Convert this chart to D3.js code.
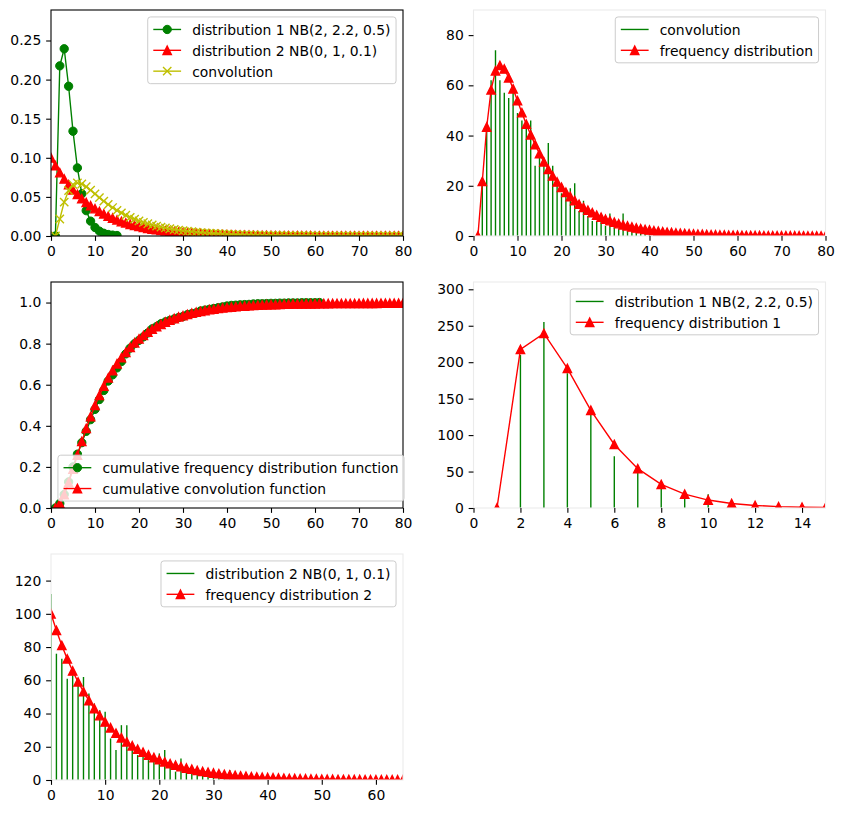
<!DOCTYPE html>
<html>
<head>
<meta charset="utf-8">
<script src="https://cdn.jsdelivr.net/npm/d3@7"></script>
<style>
  body { margin: 0; background: #fff; }
  svg { display: block; font-family: "DejaVu Sans", sans-serif; }
</style>
</head>
<body>
<div id="chart"></div>
<script>
// Negative binomial distributions, their convolution and sampled frequencies

// ---- data ----
// distribution 1 NB(2, 2.2, 0.5), x = 1..15
const dist1Start = 1;
const dist1 = [0, 0.2176, 0.2394, 0.1915, 0.1340, 0.0871, 0.0540, 0.0324, 0.0190, 0.0109,
  0.0062, 0.0035, 0.0019, 0.0011, 0.0006];

// distribution 2 NB(0, 1, 0.1), x = 0..80
const dist2Start = 0;
const dist2 = [0.1000, 0.0900, 0.0810, 0.0729, 0.0656, 0.0590, 0.0531, 0.0478, 0.0430, 0.0387,
  0.0349, 0.0314, 0.0282, 0.0254, 0.0229, 0.0206, 0.0185, 0.0167, 0.0150, 0.0135,
  0.0122, 0.0109, 0.0098, 0.0089, 0.0080, 0.0072, 0.0065, 0.0058, 0.0052, 0.0047,
  0.0042, 0.0038, 0.0034, 0.0031, 0.0028, 0.0025, 0.0023, 0.0020, 0.0018, 0.0016,
  0.00148, 0.00133, 0.00120, 0.00108, 0.00097, 0.00087, 0.00079, 0.00071, 0.00064, 0.00057,
  0.00052, 0.00046, 0.00042, 0.00038, 0.00034, 0.00030, 0.00027, 0.00025, 0.00022, 0.00020,
  0.00018, 0.00016, 0.00015, 0.00013, 0.00012, 0.00011, 0.00010, 0.00009, 0.00008, 0.00007,
  0.00006, 0.00006, 0.00005, 0.00005, 0.00004, 0.00004, 0.00003, 0.00003, 0.00003, 0.00002,
  0.00002];

// convolution of the two, x = 1..80
const convStart = 1;
const conv = [0, 0.0217, 0.0434, 0.0582, 0.0658, 0.0679, 0.0665, 0.0630, 0.0586, 0.0539,
  0.0491, 0.0445, 0.0403, 0.0364, 0.0328, 0.0295, 0.0265, 0.0239, 0.0215, 0.0194,
  0.0174, 0.0157, 0.0141, 0.0127, 0.0114, 0.0103, 0.0093, 0.0083, 0.0075, 0.0067,
  0.0061, 0.0055, 0.0049, 0.0044, 0.0040, 0.0036, 0.0032, 0.0029, 0.0026, 0.0024,
  0.0021, 0.0019, 0.0017, 0.0015, 0.0014, 0.00125, 0.0011, 0.0010, 0.0009, 0.00082,
  0.00074, 0.00066, 0.0006, 0.00054, 0.00048, 0.00044, 0.00039, 0.00035, 0.00032, 0.00029,
  0.00026, 0.00023, 0.00021, 0.00019, 0.00017, 0.00015, 0.00014, 0.00012, 0.00011, 0.0001,
  0.00009, 0.00008, 0.00007, 0.000065, 0.00006, 0.00005, 0.000047, 0.000042, 0.000038, 0.000034];

// sampled counts (green stems)
const sampleConvStart = 1;   // x = 1..61
const sampleConv = [0, 22, 44, 62, 74, 62, 57, 55, 57, 49,
  46, 43, 46, 28, 32, 30, 37, 28, 22, 17,
  16, 19, 21, 10, 14, 8, 6, 6, 6, 4,
  9, 4, 3, 9, 2, 2, 2, 2, 1, 1,
  2, 1, 2, 1, 1, 2, 1, 0, 1, 1,
  0, 1, 0, 1, 0, 0, 1, 0, 0, 0, 1];

const sample1Start = 1;      // x = 1..14
const sample1 = [0, 210, 255, 185, 130, 71, 52, 30, 16, 19, 6, 3, 2, 1];

const sample2Start = 0;      // x = 0..40
const sample2 = [112, 76, 73, 61, 63, 58, 62, 52, 46, 42,
  41, 25, 18, 33, 33, 20, 15, 14, 12, 11,
  16, 18, 8, 5, 13, 8, 6, 5, 4, 5,
  3, 3, 2, 6, 2, 1, 2, 1, 1, 0, 1];

// cumulative functions
const cumFreqStart = 1;      // x = 1..61
const cumFreq = [0, 0.022, 0.066, 0.127, 0.200, 0.262, 0.318, 0.373, 0.430, 0.480,
  0.528, 0.572, 0.618, 0.648, 0.682, 0.713, 0.750, 0.778, 0.800, 0.816,
  0.833, 0.852, 0.872, 0.883, 0.897, 0.906, 0.913, 0.920, 0.927, 0.932,
  0.941, 0.946, 0.950, 0.959, 0.963, 0.967, 0.971, 0.975, 0.979, 0.983,
  0.986, 0.987, 0.989, 0.990, 0.991, 0.993, 0.994, 0.994, 0.995, 0.996,
  0.996, 0.997, 0.997, 0.998, 0.998, 0.998, 0.999, 0.999, 0.999, 0.999, 1.000];

const cumConvStart = 1;      // x = 1..80
const cumConv = [0, 0.022, 0.065, 0.123, 0.189, 0.257, 0.324, 0.387, 0.445, 0.499,
  0.548, 0.593, 0.633, 0.669, 0.702, 0.732, 0.758, 0.782, 0.804, 0.823,
  0.840, 0.856, 0.870, 0.883, 0.894, 0.905, 0.914, 0.922, 0.930, 0.936,
  0.942, 0.948, 0.953, 0.957, 0.961, 0.965, 0.968, 0.971, 0.974, 0.976,
  0.978, 0.980, 0.982, 0.983, 0.985, 0.986, 0.987, 0.988, 0.989, 0.990,
  0.990, 0.991, 0.992, 0.992, 0.993, 0.993, 0.993, 0.994, 0.994, 0.994,
  0.9947, 0.9949, 0.9951, 0.9953, 0.9955, 0.9956, 0.9958, 0.9959, 0.9960, 0.9961,
  0.9962, 0.9963, 0.9963, 0.9964, 0.9965, 0.9965, 0.9966, 0.9966, 0.9966, 0.9967];

const sampleSize = 1000;

// tick labels
const ticks0to80 = [0, 10, 20, 30, 40, 50, 60, 70, 80];
const ticks0to60 = [0, 10, 20, 30, 40, 50, 60];
const ticks0to14 = [0, 2, 4, 6, 8, 10, 12, 14];
const ticksProb = [0, 0.05, 0.10, 0.15, 0.20, 0.25];
const ticksCum = [0, 0.2, 0.4, 0.6, 0.8, 1.0];
const ticksConvFreq = [0, 20, 40, 60, 80];
const ticksFreq1 = [0, 50, 100, 150, 200, 250, 300];
const ticksFreq2 = [0, 20, 40, 60, 80, 100, 120];

// ---- layout / style ----
const width = 844;
const height = 813;
const PW = 352, PH = 226;
const FS = 13.9;      // 10pt at 100 dpi
const TICK = 4.86;
const LW = 1.39;
const MS = 8.33;

const GREEN = "#008000", RED = "#ff0000", YELLOW = "#bfbf00";

const svg = d3.select("#chart")
  .append("svg")
  .attr("width", width)
  .attr("height", height);

const toPoints = (start, values, k = 1) => values.map((v, i) => ({ x: start + i, y: v * k }));

function panel(id, left, top, xDomain, yDomain, xTicks, yTicks, yFormat, light) {
  const g = svg.append("g").attr("transform", `translate(${left},${top})`);
  const x = d3.scaleLinear().domain(xDomain).range([0, PW]);
  const y = d3.scaleLinear().domain(yDomain).range([PH, 0]);

  g.append("clipPath").attr("id", "clip" + id)
    .append("rect").attr("width", PW).attr("height", PH);

  const plot = g.append("g").attr("clip-path", `url(#clip${id})`);
  return { g, x, y, plot, xTicks, yTicks, yFormat, light };
}

function finishAxes(p) {
  // spines drawn over data
  p.g.append("rect")
    .attr("width", PW).attr("height", PH)
    .attr("fill", "none")
    .attr("stroke", p.light ? "#ebebeb" : "#000")
    .attr("stroke-width", 1.1);

  const xa = p.g.append("g")
    .attr("transform", `translate(0,${PH})`)
    .call(d3.axisBottom(p.x).tickValues(p.xTicks).tickSize(TICK).tickPadding(TICK).tickFormat(d3.format("d")));
  const ya = p.g.append("g")
    .call(d3.axisLeft(p.y).tickValues(p.yTicks).tickSize(TICK).tickPadding(TICK).tickFormat(p.yFormat));

  [xa, ya].forEach(a => {
    a.select(".domain").remove();
    a.attr("font-size", FS).attr("font-family", '"DejaVu Sans", sans-serif');
    a.selectAll("line").attr("stroke", "#000").attr("stroke-width", 1.1);
    a.selectAll("text").attr("fill", "#000");
  });
}

function marker(sel, type, color) {
  const h = MS / 2;
  if (type === "circle") {
    sel.append("circle").attr("r", h).attr("fill", color).attr("stroke", color).attr("stroke-width", 1);
  } else if (type === "triangle") {
    sel.append("path").attr("d", `M0,${-h}L${h},${h}L${-h},${h}Z`)
      .attr("fill", color).attr("stroke", color).attr("stroke-width", LW).attr("stroke-linejoin", "miter");
  } else if (type === "x") {
    sel.append("path").attr("d", `M${-h},${-h}L${h},${h}M${-h},${h}L${h},${-h}`)
      .attr("fill", "none").attr("stroke", color).attr("stroke-width", LW);
  }
}

function lineSeries(p, pts, color, type) {
  const line = d3.line().x(d => p.x(d.x)).y(d => p.y(d.y));
  p.plot.append("path")
    .datum(pts)
    .attr("d", line)
    .attr("fill", "none")
    .attr("stroke", color)
    .attr("stroke-width", LW);

  p.plot.selectAll(null)
    .data(pts)
    .enter()
    .append("g")
    .attr("transform", d => `translate(${p.x(d.x)},${p.y(d.y)})`)
    .each(function () { marker(d3.select(this), type, color); });
}

function stems(p, pts, color) {
  p.plot.selectAll(null)
    .data(pts)
    .enter()
    .append("line")
    .attr("x1", d => p.x(d.x)).attr("x2", d => p.x(d.x))
    .attr("y1", p.y(0)).attr("y2", d => p.y(d.y))
    .attr("stroke", color)
    .attr("stroke-width", LW);
}

function legend(p, items, loc) {
  const pad = 0.5 * FS, bp = 0.4 * FS, hl = 2 * FS, htp = 0.8 * FS, ls = 0.5 * FS;
  const lg = p.g.append("g");
  const box = lg.append("rect");
  const texts = items.map(it => lg.append("text")
    .attr("font-size", FS)
    .attr("dominant-baseline", "central")
    .attr("fill", "#000")
    .text(it.label));
  const tw = d3.max(texts, t => t.node().getComputedTextLength());
  const w = bp + hl + htp + tw + bp;
  const h = 2 * bp + items.length * FS + (items.length - 1) * ls;
  const lx = loc === "upper right" ? PW - pad - w : pad;
  const ly = loc === "upper right" ? pad : PH - pad - h;

  box.attr("x", lx).attr("y", ly).attr("width", w).attr("height", h)
    .attr("rx", 2.8)
    .attr("fill", "#fff").attr("fill-opacity", 0.8)
    .attr("stroke", "#cccccc").attr("stroke-width", 1);

  items.forEach((it, i) => {
    const cy = ly + bp + i * (FS + ls) + FS / 2;
    lg.append("line")
      .attr("x1", lx + bp).attr("x2", lx + bp + hl)
      .attr("y1", cy).attr("y2", cy)
      .attr("stroke", it.color).attr("stroke-width", LW);
    if (it.marker) {
      const m = lg.append("g").attr("transform", `translate(${lx + bp + hl / 2},${cy})`);
      marker(m, it.marker, it.color);
    }
    texts[i].attr("x", lx + bp + hl + htp).attr("y", cy + 0.5);
  });
}

// ---- top left: pmfs ----
const p1 = panel(1, 51, 10, [0, 80], [0, 0.289], ticks0to80, ticksProb, d3.format(".2f"), false);
lineSeries(p1, toPoints(dist1Start, dist1), GREEN, "circle");
lineSeries(p1, toPoints(dist2Start, dist2), RED, "triangle");
lineSeries(p1, toPoints(convStart, conv), YELLOW, "x");
finishAxes(p1);
legend(p1, [
  { label: "distribution 1 NB(2, 2.2, 0.5)", color: GREEN, marker: "circle" },
  { label: "distribution 2 NB(0, 1, 0.1)", color: RED, marker: "triangle" },
  { label: "convolution", color: YELLOW, marker: "x" }
], "upper right");

// ---- top right: convolution sample vs expected ----
const p2 = panel(2, 473.5, 10, [0, 80], [0, 90], ticks0to80, ticksConvFreq, d3.format("d"), true);
stems(p2, toPoints(sampleConvStart, sampleConv), GREEN);
lineSeries(p2, toPoints(convStart, conv, sampleSize), RED, "triangle");
finishAxes(p2);
legend(p2, [
  { label: "convolution", color: GREEN },
  { label: "frequency distribution", color: RED, marker: "triangle" }
], "upper right");

// ---- middle left: cumulative ----
const p3 = panel(3, 51, 282, [0, 80], [0, 1.1], ticks0to80, ticksCum, d3.format(".1f"), false);
lineSeries(p3, toPoints(cumFreqStart, cumFreq), GREEN, "circle");
lineSeries(p3, toPoints(cumConvStart, cumConv), RED, "triangle");
finishAxes(p3);
legend(p3, [
  { label: "cumulative frequency distribution function", color: GREEN, marker: "circle" },
  { label: "cumulative convolution function", color: RED, marker: "triangle" }
], "lower left");

// ---- middle right: distribution 1 sample ----
const p4 = panel(4, 473.5, 282, [0, 15], [0, 310], ticks0to14, ticksFreq1, d3.format("d"), true);
stems(p4, toPoints(sample1Start, sample1), GREEN);
lineSeries(p4, toPoints(dist1Start, dist1, sampleSize), RED, "triangle");
finishAxes(p4);
legend(p4, [
  { label: "distribution 1 NB(2, 2.2, 0.5)", color: GREEN },
  { label: "frequency distribution 1", color: RED, marker: "triangle" }
], "upper right");

// ---- bottom left: distribution 2 sample ----
const p5 = panel(5, 51, 554, [0, 65], [0, 136], ticks0to60, ticksFreq2, d3.format("d"), true);
stems(p5, toPoints(sample2Start, sample2), GREEN);
lineSeries(p5, toPoints(dist2Start, dist2, sampleSize), RED, "triangle");
finishAxes(p5);
legend(p5, [
  { label: "distribution 2 NB(0, 1, 0.1)", color: GREEN },
  { label: "frequency distribution 2", color: RED, marker: "triangle" }
], "upper right");
</script>
</body>
</html>
